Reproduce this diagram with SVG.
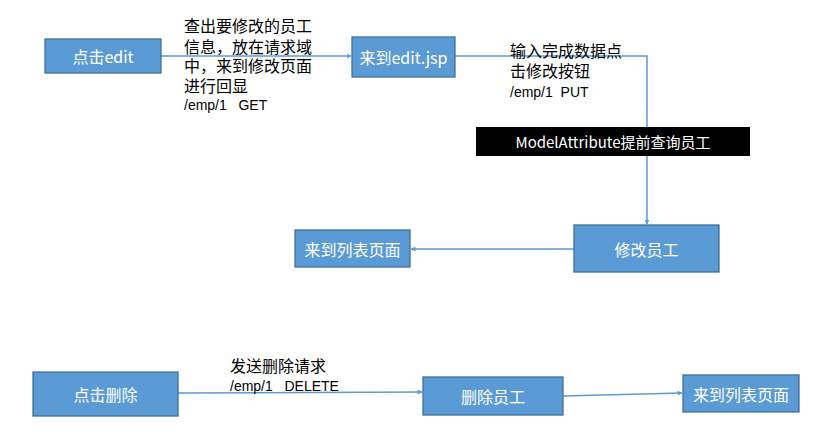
<svg xmlns="http://www.w3.org/2000/svg" width="815" height="435" viewBox="0 0 815 435">
<style>
.box{fill:#5B9BD5;stroke:#41719C;stroke-width:1.3}
.bt{fill:#fff;font-family:"Noto Sans CJK SC","Liberation Sans",sans-serif;font-size:16px;text-anchor:middle;dominant-baseline:central}
.lbl{fill:#000;font-family:"Noto Sans CJK SC","Liberation Sans",sans-serif;font-size:16px}
.path{fill:#000;font-family:"Liberation Sans",sans-serif;font-size:14px;white-space:pre}
.con{fill:none;stroke:#5B9BD5;stroke-width:1.5;marker-end:url(#ah)}
</style>
<defs>
<marker id="ah" viewBox="0 0 10 10" refX="9" refY="5" markerWidth="5" markerHeight="5" orient="auto" markerUnits="userSpaceOnUse"><path d="M0,0 L10,5 L0,10 z" fill="#5B9BD5"/></marker>
</defs>
<rect width="815" height="435" fill="#fff"/>
<g id="connectors">
<path class="con" d="M161,56 L351,56"/>
<path class="con" d="M455,56 L647,56 L647,224"/>
<path class="con" d="M574,249 L411,249"/>
<path class="con" d="M178,393 L422,392"/>
<path class="con" d="M563,396 L682,393"/>
</g>
<g id="n1"><rect class="box" x="45" y="39" width="116" height="34"/><text class="bt" x="103" y="56">点击edit</text></g>
<g id="n2"><rect class="box" x="352" y="37" width="103" height="40"/><text class="bt" x="403.5" y="57">来到edit.jsp</text></g>
<g id="l1">
<text class="lbl" x="184" y="32">查出要修改的员工</text>
<text class="lbl" x="184" y="52.5">信息，放在请求域</text>
<text class="lbl" x="184" y="72">中，来到修改页面</text>
<text class="lbl" x="184" y="91.5">进行回显</text>
<text class="path" x="184" y="110" xml:space="preserve">/emp/1   GET</text>
</g>
<g id="l2">
<text class="lbl" x="510" y="57">输入完成数据点</text>
<text class="lbl" x="510" y="77">击修改按钮</text>
<text class="path" x="510" y="97" xml:space="preserve">/emp/1  PUT</text>
</g>
<g id="n3"><rect x="476" y="127" width="274" height="29" fill="#000"/><text class="bt" x="613" y="141.5" style="font-size:15px">ModelAttribute提前查询员工</text></g>
<g id="n4"><rect class="box" x="574" y="225" width="145" height="47"/><text class="bt" x="646.5" y="249">修改员工</text></g>
<g id="n5"><rect class="box" x="295" y="230" width="115" height="37"/><text class="bt" x="352.5" y="249">来到列表页面</text></g>
<g id="n6"><rect class="box" x="33" y="372" width="145" height="44"/><text class="bt" x="105.5" y="394">点击删除</text></g>
<g id="l3">
<text class="lbl" x="230" y="372">发送删除请求</text>
<text class="path" x="230" y="391" xml:space="preserve">/emp/1   DELETE</text>
</g>
<g id="n7"><rect class="box" x="423" y="377" width="140" height="38"/><text class="bt" x="493" y="396">删除员工</text></g>
<g id="n8"><rect class="box" x="683" y="375" width="116" height="37"/><text class="bt" x="741" y="393.5">来到列表页面</text></g>
</svg>
